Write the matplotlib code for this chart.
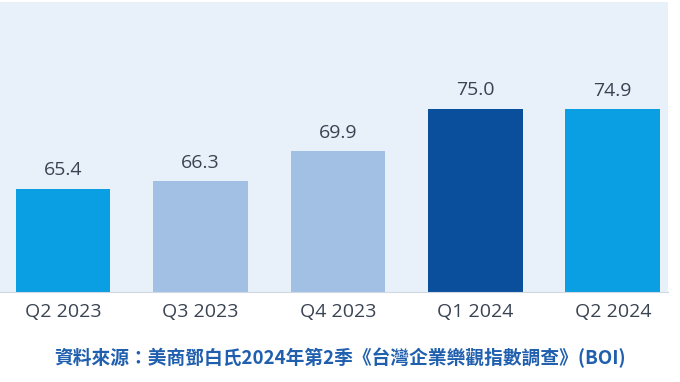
import matplotlib
matplotlib.use("Agg")
import matplotlib.pyplot as plt

quarters = ["Q2 2023", "Q3 2023", "Q4 2023", "Q1 2024", "Q2 2024"]
boi_values = [65.4, 66.3, 69.9, 75.0, 74.9]
bar_colors = ["#0a9ee2", "#a2bfe4", "#a2bfe4", "#0a4f9b", "#0a9ee2"]
caption = "資料來源：美商鄧白氏2024年第2季《台灣企業樂觀指數調查》(BOI)"

plt.rcParams['font.family'] = ['Open Sans', 'Noto Sans CJK TC', 'DejaVu Sans']

fig = plt.figure(figsize=(6.8, 3.82), dpi=100)
ax = fig.add_axes([0.0, 0.2356, 0.982, 0.7594])
ax.set_facecolor("#e8f0fa")

x = range(len(quarters))
bars = ax.bar(x, boi_values, width=0.69, color=bar_colors, zorder=2)
for rect, v in zip(bars, boi_values):
    ax.text(rect.get_x() + rect.get_width() / 2, v + 1.1, f"{v:.1f}",
            ha='center', va='bottom', fontsize=14, color="#3a4352")

ax.set_xlim(-0.459, 4.40)
ax.set_ylim(53, 87.8)
ax.set_xticks(list(x))
ax.set_xticklabels(quarters, fontsize=14, color="#3a4352")
ax.tick_params(axis='x', length=0, pad=8)
ax.set_yticks([])
for side in ['top', 'right', 'left']:
    ax.spines[side].set_visible(False)
ax.spines['bottom'].set_color("#d0d8e4")

fig.text(0.5, 0.063, caption, ha='center', va='center', fontsize=13.5,
         fontweight='bold', color="#1f5fae",
         family=['Noto Sans CJK TC', 'DejaVu Sans'])

fig.savefig("out.png", dpi=100)
